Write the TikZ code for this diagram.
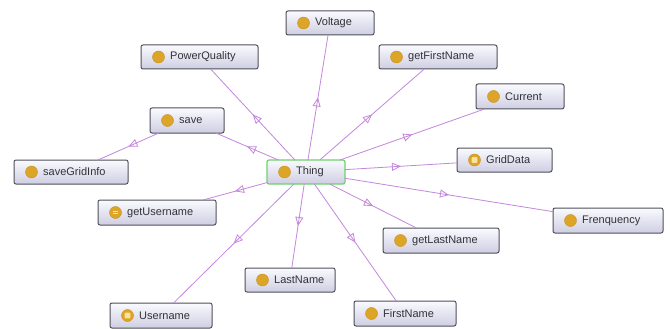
\documentclass[tikz,border=0pt]{standalone}
\usepackage{fontspec}
\setmainfont{Liberation Sans}
\usetikzlibrary{arrows.meta,decorations.markings}

\definecolor{edgecol}{RGB}{195,135,220}
\definecolor{boxtop}{RGB}{250,250,255}
\definecolor{boxbot}{RGB}{206,206,226}
\definecolor{boxline}{RGB}{80,80,90}
\definecolor{thingline}{RGB}{110,210,110}
\definecolor{gold}{RGB}{220,165,40}
\definecolor{goldline}{RGB}{200,145,30}
\definecolor{cream}{RGB}{250,225,160}
\definecolor{labelcol}{RGB}{50,50,55}

\tikzset{
  clsbox/.style={rectangle, rounded corners=2pt, draw=boxline, line width=1pt,
    top color=boxtop, bottom color=boxbot, inner sep=0pt, outer sep=0pt},
  thingbox/.style={clsbox, draw=thingline, line width=1.2pt},
  clslabel/.style={anchor=west, inner sep=0pt, font=\fontsize{11}{13}\selectfont, text=labelcol},
  clsicon/.style={circle, fill=gold, draw=goldline, line width=0.4pt, minimum size=12pt, inner sep=0pt},
  isa/.style={draw=edgecol, line width=0.8pt,
    postaction={decorate, decoration={markings,
      mark=at position 0.5 with {\arrow[edgecol, line width=0.8pt]{Triangle[open,length=9pt,width=8pt]}}}}},
}

% one class box: name, left, top, right, bottom, label, box style
\newcommand\owlclass[7]{%
  \node[#7, minimum width={#4-#2}, minimum height={#5-#3}] (#1) at ({(#2+#4)/2},{(#3+#5)/2}) {};
  \node[clsicon] (#1-i) at ([xshift=17.5pt]#1.west) {};
  \node[clslabel] (#1-l) at ([xshift=29pt]#1.west) {#6};}

\begin{document}
\begin{tikzpicture}[x=1pt, y=-1pt]
\useasboundingbox[fill=white] (0,0) rectangle (670,329);

\owlclass{Thing}{267}{160}{345}{184}{Thing}{thingbox}
\owlclass{Voltage}{286}{11}{374}{35}{Voltage}{clsbox}
\owlclass{PowerQuality}{141}{45}{258}{69}{PowerQuality}{clsbox}
\owlclass{getFirstName}{379}{45}{497}{69}{getFirstName}{clsbox}
\owlclass{Current}{476}{84}{564}{109}{Current}{clsbox}
\owlclass{save}{150}{108}{224}{133}{save}{clsbox}
\owlclass{saveGridInfo}{14}{160}{128}{184}{saveGridInfo}{clsbox}
\owlclass{GridData}{457}{148}{552}{172}{GridData}{clsbox}
\owlclass{getUsername}{98}{200}{216}{225}{getUsername}{clsbox}
\owlclass{Frenquency}{553}{208}{663}{233}{Frenquency}{clsbox}
\owlclass{getLastName}{383}{228}{499}{253}{getLastName}{clsbox}
\owlclass{LastName}{245}{268}{335}{292}{LastName}{clsbox}
\owlclass{Username}{110}{303}{212}{328}{Username}{clsbox}
\owlclass{FirstName}{354}{301}{456}{326}{FirstName}{clsbox}

% inner marks of the special icons
\fill[cream, rounded corners=0.8pt] ([xshift=-2.8pt,yshift=-2.8pt]GridData-i.center) rectangle ([xshift=2.8pt,yshift=2.8pt]GridData-i.center);
\fill[cream, rounded corners=0.8pt] ([xshift=-2.8pt,yshift=-2.8pt]Username-i.center) rectangle ([xshift=2.8pt,yshift=2.8pt]Username-i.center);
\draw[cream, line width=1pt] ([xshift=-2.8pt,yshift=-1.4pt]getUsername-i.center) -- ([xshift=2.8pt,yshift=-1.4pt]getUsername-i.center)
  ([xshift=-2.8pt,yshift=1.4pt]getUsername-i.center) -- ([xshift=2.8pt,yshift=1.4pt]getUsername-i.center);

% subclass links
\foreach \c in {Voltage,PowerQuality,getFirstName,Current,save,GridData,getUsername,Frenquency,getLastName,LastName,Username,FirstName}
  \path[isa] (Thing) -- (\c);
\path[isa] (save) -- (saveGridInfo);
\end{tikzpicture}
\end{document}
